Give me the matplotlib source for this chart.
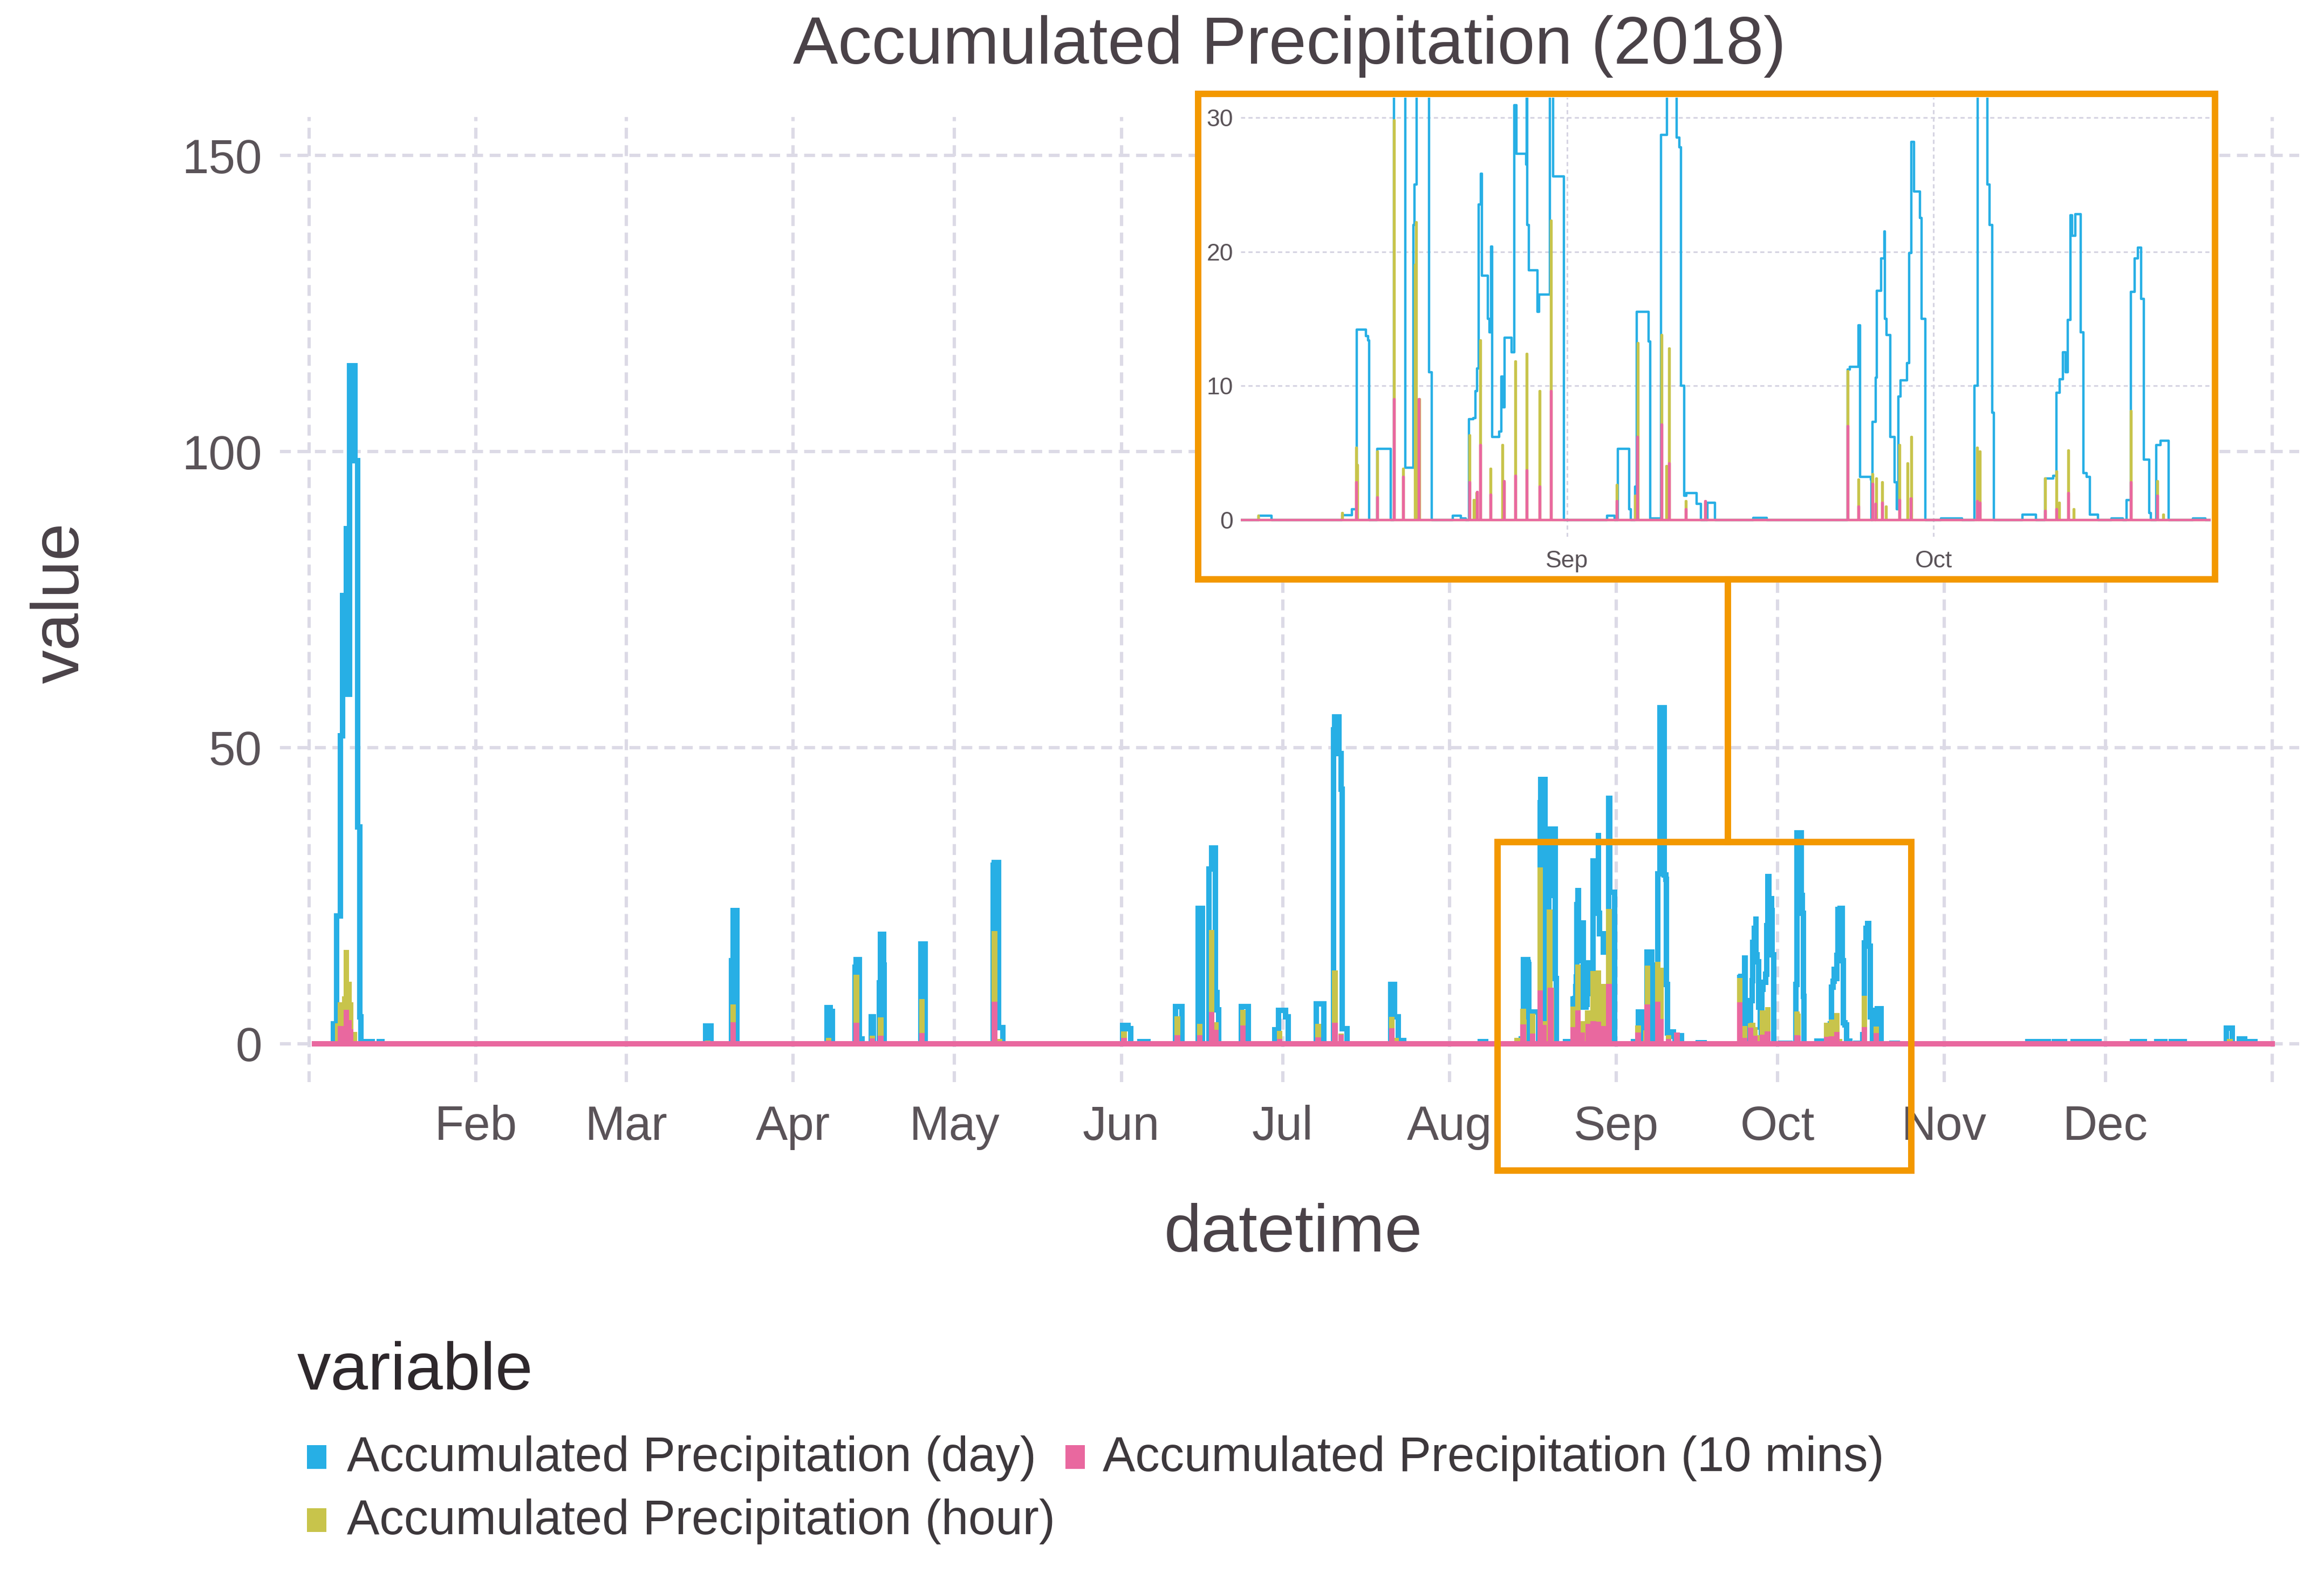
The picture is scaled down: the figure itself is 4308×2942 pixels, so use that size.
import pandas as pd
import matplotlib
matplotlib.use('Agg')
import matplotlib.pyplot as plt
from matplotlib.patches import Rectangle
from matplotlib.lines import Line2D

plt.rcParams['font.family'] = ['Liberation Sans', 'DejaVu Sans']

# accumulated precipitation of the day: (time, value) holding until the next point
day_points = [
    ('01-05 12:00', 3.3), ('01-06 02:00', 21.6), ('01-06 19:00', 52.0), ('01-07 05:00', 75.7),
    ('01-07 21:00', 87.0), ('01-08 06:00', 59.0), ('01-08 12:00', 114.5), ('01-09 12:00', 98.5),
    ('01-10 00:00', 36.6), ('01-10 10:00', 4.5), ('01-10 14:00', 0),
    ('01-11 12:00', 0.3), ('01-12 18:00', 0), ('01-14 00:00', 0.3), ('01-14 12:00', 0),
    ('03-15 17:00', 3.0), ('03-16 17:00', 0),
    ('03-20 12:00', 14.0), ('03-20 20:00', 22.5), ('03-21 12:00', 0),
    ('04-07 06:00', 6.1), ('04-07 22:00', 5.4), ('04-08 06:00', 0),
    ('04-12 12:00', 12.9), ('04-12 18:00', 14.2), ('04-13 07:00', 0.8), ('04-13 20:00', 0),
    ('04-15 12:00', 4.5), ('04-15 22:00', 0),
    ('04-17 00:00', 10.3), ('04-17 04:00', 18.5), ('04-17 20:00', 13.3), ('04-17 23:00', 0),
    ('04-24 17:00', 16.8), ('04-25 14:00', 0),
    ('05-08 04:00', 30.1), ('05-08 10:00', 30.6), ('05-09 05:00', 2.7), ('05-10 00:00', 0),
    ('06-01 05:00', 3.1), ('06-02 05:00', 2.5), ('06-02 17:00', 0),
    ('06-04 12:00', 0.3), ('06-06 00:00', 0),
    ('06-11 02:00', 6.3), ('06-12 07:00', 0),
    ('06-15 07:00', 22.8), ('06-16 02:00', 0),
    ('06-17 07:00', 29.5), ('06-17 19:00', 33.0), ('06-18 12:00', 8.6), ('06-18 19:00', 5.7), ('06-19 02:00', 0),
    ('06-23 07:00', 6.3), ('06-24 14:00', 0),
    ('06-29 14:00', 2.3), ('06-30 06:00', 5.6), ('07-01 12:00', 4.5), ('07-02 00:00', 0),
    ('07-07 07:00', 6.7), ('07-08 17:00', 0),
    ('07-10 10:00', 53.0), ('07-10 17:00', 55.2), ('07-11 12:00', 49.0), ('07-11 20:00', 43.0),
    ('07-12 02:00', 2.5), ('07-13 00:00', 0),
    ('07-21 02:00', 10.0), ('07-21 18:00', 4.5), ('07-22 12:00', 0.5), ('07-23 12:00', 0),
    ('08-06 17:00', 0.3), ('08-07 19:00', 0),
    ('08-13 14:00', 0.35), ('08-14 09:00', 0.8), ('08-14 18:00', 14.2), ('08-15 13:00', 13.7),
    ('08-15 17:00', 13.4), ('08-15 19:00', 0),
    ('08-16 11:00', 5.3), ('08-17 13:00', 0),
    ('08-17 20:00', 40.7), ('08-18 00:00', 44.6), ('08-18 18:00', 3.9), ('08-19 10:00', 22.0),
    ('08-19 12:00', 25.0), ('08-19 16:00', 36.2), ('08-20 17:00', 11.0), ('08-20 22:00', 0),
    ('08-22 15:00', 0.3), ('08-23 07:00', 0.1), ('08-23 17:00', 0),
    ('08-23 23:00', 7.5), ('08-24 08:00', 7.6), ('08-24 12:00', 9.6), ('08-24 15:00', 11.3),
    ('08-24 18:00', 23.5), ('08-24 22:00', 25.8), ('08-25 00:00', 18.2), ('08-25 12:00', 15.0),
    ('08-25 15:00', 14.0), ('08-25 19:00', 20.4), ('08-25 21:00', 6.2), ('08-26 10:00', 6.6),
    ('08-26 15:00', 10.7), ('08-26 18:00', 8.4), ('08-26 21:00', 13.6), ('08-27 11:00', 12.5),
    ('08-27 16:00', 30.9), ('08-27 20:00', 27.3), ('08-28 15:00', 26.5), ('08-28 17:00', 35.6),
    ('08-28 18:00', 22.0), ('08-28 21:00', 18.6), ('08-29 14:00', 15.5), ('08-29 17:00', 16.8),
    ('08-30 14:00', 41.4), ('08-30 20:00', 25.6), ('08-31 18:00', 0),
    ('09-04 06:00', 0.3), ('09-04 21:00', 0),
    ('09-05 04:00', 5.3), ('09-06 02:00', 0.8), ('09-06 05:00', 0),
    ('09-06 14:00', 2.5), ('09-06 17:00', 15.5), ('09-07 16:00', 13.3), ('09-07 19:00', 0.1),
    ('09-08 17:00', 28.7), ('09-09 04:00', 56.7), ('09-09 23:00', 28.5), ('09-10 05:00', 27.8),
    ('09-10 08:00', 10.0), ('09-10 14:00', 1.8), ('09-10 18:00', 2.0), ('09-11 15:00', 1.2),
    ('09-11 23:00', 0), ('09-12 12:00', 1.3), ('09-13 03:00', 0),
    ('09-16 06:00', 0.15), ('09-17 08:00', 0),
    ('09-23 23:00', 11.2), ('09-24 04:00', 11.4), ('09-24 21:00', 14.5), ('09-25 00:00', 3.2),
    ('09-25 21:00', 3.0), ('09-25 22:00', 0),
    ('09-26 00:00', 7.3), ('09-26 06:00', 10.6), ('09-26 09:00', 17.1), ('09-26 17:00', 19.5),
    ('09-26 23:00', 21.5), ('09-27 01:00', 15.0), ('09-27 04:00', 13.8), ('09-27 11:00', 6.2),
    ('09-27 20:00', 2.8), ('09-28 00:00', 0.8), ('09-28 03:00', 9.2), ('09-28 07:00', 10.4),
    ('09-28 20:00', 11.7), ('09-29 00:00', 19.9), ('09-29 05:00', 28.2), ('09-29 10:00', 24.5),
    ('09-29 21:00', 22.5), ('09-30 01:00', 15.0), ('09-30 08:00', 0),
    ('10-01 15:00', 0.1), ('10-03 08:00', 0),
    ('10-04 09:00', 10.0), ('10-04 15:00', 35.6), ('10-05 10:00', 25.0), ('10-05 14:00', 22.0),
    ('10-05 20:00', 8.0), ('10-05 23:00', 0),
    ('10-08 07:00', 0.4), ('10-09 09:00', 0),
    ('10-10 04:00', 3.1), ('10-10 19:00', 3.3), ('10-11 02:00', 9.5), ('10-11 08:00', 10.5),
    ('10-11 14:00', 12.5), ('10-11 20:00', 11.0), ('10-12 00:00', 14.9), ('10-12 05:00', 22.7),
    ('10-12 09:00', 21.2), ('10-12 15:00', 22.8), ('10-13 01:00', 14.0), ('10-13 07:00', 3.5),
    ('10-13 13:00', 3.2), ('10-13 20:00', 0.4), ('10-14 11:00', 0),
    ('10-15 14:00', 0.1), ('10-16 12:00', 0),
    ('10-16 20:00', 1.5), ('10-17 04:00', 17.0), ('10-17 12:00', 19.5), ('10-17 18:00', 20.3),
    ('10-18 00:00', 16.5), ('10-18 06:00', 4.5), ('10-18 16:00', 0.5), ('10-18 19:00', 0),
    ('10-19 06:00', 5.6), ('10-19 14:00', 5.9), ('10-20 06:00', 0),
    ('10-22 06:00', 0.1), ('10-23 06:00', 0),
    ('11-16 12:00', 0.3), ('11-18 00:00', 0), ('11-19 00:00', 0.3), ('11-20 09:00', 0),
    ('11-21 12:00', 0.3), ('11-23 09:00', 0), ('11-25 00:00', 0.3), ('11-26 12:00', 0),
    ('11-27 06:00', 0.3), ('11-29 20:00', 0),
    ('12-06 00:00', 0.3), ('12-08 06:00', 0), ('12-10 12:00', 0.3), ('12-12 00:00', 0),
    ('12-13 06:00', 0.3), ('12-15 15:00', 0),
    ('12-23 12:00', 2.6), ('12-24 14:00', 0), ('12-25 22:00', 0.8), ('12-26 20:00', 0.3), ('12-28 18:00', 0),
]

# accumulated precipitation of the hour: (time, value) hourly peaks
hour_points = [
    ('01-06 08:00', 3.0), ('01-06 20:00', 6.5), ('01-07 14:00', 8.0), ('01-07 22:00', 15.8),
    ('01-08 08:00', 10.0), ('01-08 16:00', 6.5), ('01-09 10:00', 2.0),
    ('03-16 03:00', 0.5), ('03-20 20:00', 6.6),
    ('04-07 14:00', 1.0), ('04-12 18:00', 11.2), ('04-15 16:00', 1.3), ('04-17 06:00', 4.0),
    ('04-24 22:00', 7.5), ('05-08 10:00', 18.6), ('05-09 08:00', 0.8), ('06-01 12:00', 1.6),
    ('06-11 10:00', 4.2), ('06-15 14:00', 3.3), ('06-17 19:00', 19.2), ('06-18 14:00', 3.6),
    ('06-23 14:00', 5.7), ('06-30 10:00', 2.2), ('07-07 14:00', 2.9), ('07-10 17:00', 11.9),
    ('07-11 20:00', 1.7), ('07-21 06:00', 4.5), ('07-22 02:00', 1.0),
    ('08-06 17:00', 0.3), ('08-13 14:00', 0.5), ('08-14 17:00', 5.4), ('08-14 20:00', 4.1),
    ('08-16 11:00', 5.1), ('08-17 20:00', 29.8), ('08-18 14:00', 3.8), ('08-19 13:00', 19.0),
    ('08-19 15:00', 22.2), ('08-19 22:00', 9.0), ('08-24 00:00', 6.3), ('08-24 09:00', 1.5),
    ('08-24 14:00', 2.0), ('08-24 21:00', 13.4), ('08-25 17:00', 3.8), ('08-26 17:00', 5.6),
    ('08-26 20:00', 2.8), ('08-27 18:00', 11.8), ('08-28 17:00', 12.4), ('08-29 18:00', 9.6),
    ('08-30 16:00', 22.3), ('09-05 02:00', 2.6), ('09-06 14:00', 1.8), ('09-06 19:00', 13.2),
    ('09-08 18:00', 13.8), ('09-09 03:00', 4.0), ('09-09 08:00', 12.8), ('09-10 17:00', 1.4),
    ('09-12 07:00', 1.3), ('09-23 23:00', 11.1), ('09-24 21:00', 3.0), ('09-26 00:00', 3.4),
    ('09-26 08:00', 3.1), ('09-26 19:00', 2.8), ('09-27 03:00', 1.0), ('09-28 05:00', 5.6),
    ('09-28 21:00', 4.2), ('09-29 05:00', 6.2), ('10-04 14:00', 5.4), ('10-04 19:00', 5.1),
    ('10-10 04:00', 3.1), ('10-11 02:00', 3.6), ('10-11 07:00', 1.3), ('10-12 01:00', 5.2),
    ('10-12 12:00', 0.8), ('10-17 04:00', 8.1), ('10-19 08:00', 2.9), ('10-19 20:00', 0.4),
    ('12-24 02:00', 0.3),
]

# accumulated precipitation of 10 minutes
tenmin_points = [
    ('01-06 20:00', 2.5), ('01-07 14:00', 3.0), ('01-07 22:00', 5.7), ('01-08 08:00', 3.5),
    ('01-08 16:00', 2.0), ('03-20 20:00', 3.6), ('04-07 14:00', 0.5), ('04-12 18:00', 3.1),
    ('04-15 16:00', 0.9), ('04-17 06:00', 0.9), ('04-24 22:00', 1.8), ('05-08 10:00', 6.6),
    ('06-01 12:00', 0.5), ('06-11 10:00', 1.0), ('06-15 14:00', 1.4), ('06-17 19:00', 5.3),
    ('06-18 14:00', 2.3), ('06-23 14:00', 3.1), ('06-30 10:00', 0.8), ('07-07 14:00', 0.6),
    ('07-10 17:00', 3.1), ('07-11 20:00', 1.5), ('07-21 06:00', 2.6),
    ('08-14 17:00', 2.8), ('08-16 11:00', 1.7), ('08-17 20:00', 9.0), ('08-18 14:00', 3.2),
    ('08-19 20:00', 9.0), ('08-24 00:00', 2.8), ('08-24 15:00', 2.1), ('08-24 21:00', 5.6),
    ('08-25 17:00', 1.9), ('08-26 20:00', 2.9), ('08-27 18:00', 3.3), ('08-28 17:00', 3.7),
    ('08-29 18:00', 2.5), ('08-30 16:00', 9.6), ('09-05 02:00', 1.4), ('09-06 18:00', 6.2),
    ('09-08 18:00', 7.1), ('09-09 08:00', 4.2), ('09-10 17:00', 0.8), ('09-12 07:00', 1.4),
    ('09-23 23:00', 7.0), ('09-24 21:00', 1.0), ('09-26 00:00', 2.7), ('09-26 06:00', 1.2),
    ('09-26 19:00', 1.3), ('09-28 05:00', 1.5), ('09-29 03:00', 1.6), ('10-04 14:00', 1.4),
    ('10-04 19:00', 1.3), ('10-10 04:00', 0.7), ('10-11 02:00', 0.8), ('10-12 01:00', 2.0),
    ('10-17 04:00', 2.8), ('10-19 08:00', 1.8),
]

month_labels = ['', 'Feb', 'Mar', 'Apr', 'May', 'Jun', 'Jul', 'Aug', 'Sep', 'Oct', 'Nov', 'Dec', '']
series_names = ['Accumulated Precipitation (day)', 'Accumulated Precipitation (10 mins)',
                'Accumulated Precipitation (hour)']
BLUE, PINK, YELLOW = '#27afe5', '#e9689f', '#c8c44b'
ORANGE = '#f39800'
GRID = '#dcdae6'

START = pd.Timestamp('2018-01-02 00:00')
END = pd.Timestamp('2018-12-31 23:50')


def ts(s):
    return pd.Timestamp('2018-' + s)


def day_series(points):
    t = [START] + [ts(a) for a, _ in points] + [END]
    v = [0] + [b for _, b in points] + [0]
    return pd.to_datetime(t), v


def spike_series(points):
    t, v = [START], [0]
    for a, b in points:
        t += [ts(a), ts(a) + pd.Timedelta('1h')]
        v += [b, 0]
    t.append(END)
    v.append(0)
    return pd.to_datetime(t), v


series = [(day_series(day_points), BLUE),
          (spike_series(hour_points), YELLOW),
          (spike_series(tenmin_points), PINK)]

W, H = 4308, 2942
fig = plt.figure(figsize=(W / 200, H / 200), dpi=200)

# main panel
ax = fig.add_axes([519 / W, 1 - 2006 / H, (4262 - 519) / W, (2006 - 217) / H], zorder=0)
for (t, v), c in series:
    ax.plot(t, v, drawstyle='steps-post', color=c, lw=3.6, solid_joinstyle='miter')
ax.set_xlim(pd.Timestamp('2017-12-26 14:00'), pd.Timestamp('2019-01-06 00:00'))
ax.set_ylim(-6.5, 156.5)
ax.set_xticks(pd.date_range('2018-01-01', '2019-01-01', freq='MS'))
ax.set_xticklabels(month_labels)
ax.set_yticks([0, 50, 100, 150])
ax.tick_params(length=0, labelsize=32, labelcolor='#5a5358')
ax.tick_params(axis='x', pad=15)
ax.tick_params(axis='y', pad=12)
ax.grid(color=GRID, lw=2.2, linestyle=(0, (3.3, 2.0)))
for s in ax.spines.values():
    s.set_visible(False)

# inset panel
fig.add_artist(Rectangle((2221 / W, 1 - 1074 / H), (4106 - 2221) / W, (1074 - 174) / H,
                         transform=fig.transFigure, facecolor='white', edgecolor='none', zorder=1))
axi = fig.add_axes([2300 / W, 1 - 995 / H, 1798 / W, 814 / H], zorder=2)
axi.set_facecolor('none')
for (t, v), c in series:
    axi.plot(t, v, drawstyle='steps-post', color=c, lw=1.6)
axi.set_xlim(pd.Timestamp('2018-08-05 06:30'), pd.Timestamp('2018-10-23 17:00'))
axi.set_ylim(-1.25, 31.48)
axi.set_xticks([pd.Timestamp('2018-09-01'), pd.Timestamp('2018-10-01')])
axi.set_xticklabels(['Sep', 'Oct'])
axi.set_yticks([0, 10, 20, 30])
axi.tick_params(length=0, labelsize=16, labelcolor='#5a5358')
axi.tick_params(axis='x', pad=9)
axi.tick_params(axis='y', pad=5)
axi.grid(color='#d6d4e2', lw=1.1, linestyle=(0, (2.5, 2.0)))
for s in axi.spines.values():
    s.set_visible(False)

# orange frames and connector
fig.add_artist(Rectangle((2221 / W, 1 - 1074 / H), (4106 - 2221) / W, (1074 - 174) / H,
                         transform=fig.transFigure, fill=False, edgecolor=ORANGE, lw=4.3, zorder=3))
fig.add_artist(Rectangle((2776 / W, 1 - 2170 / H), (3543 - 2776) / W, (2170 - 1561) / H,
                         transform=fig.transFigure, fill=False, edgecolor=ORANGE, lw=4.3, zorder=3))
fig.add_artist(Line2D([3203 / W, 3203 / W], [1 - 1561 / H, 1 - 1074 / H],
                      transform=fig.transFigure, color=ORANGE, lw=4.3, zorder=3))

# titles
TXT = '#4a4248'
fig.text(2390 / W, 1 - 118 / H, 'Accumulated Precipitation (2018)', ha='center', va='baseline',
         fontsize=45, color=TXT)
fig.text(2397 / W, 1 - 2320 / H, 'datetime', ha='center', va='baseline', fontsize=45, color=TXT)
fig.text(114 / W, 1 - 1118 / H, 'value', ha='center', va='center', rotation=90,
         fontsize=45, color=TXT)

# legend
fig.text(551 / W, 1 - 2576 / H, 'variable', ha='left', va='baseline', fontsize=45, color='#2e282c')
legend_rows = [(569, 643, 2727, BLUE, series_names[0]),
               (1975, 2044, 2727, PINK, series_names[1]),
               (569, 643, 2844, YELLOW, series_names[2])]
for kx, tx, base, c, name in legend_rows:
    fig.add_artist(Rectangle((kx / W, 1 - (base - 4) / H), 36 / W, 44 / H,
                             transform=fig.transFigure, facecolor=c, edgecolor='none'))
    fig.text(tx / W, 1 - base / H, name, ha='left', va='baseline', fontsize=32.6, color='#3d383c')

fig.savefig('out.png', dpi=200, facecolor='white')
